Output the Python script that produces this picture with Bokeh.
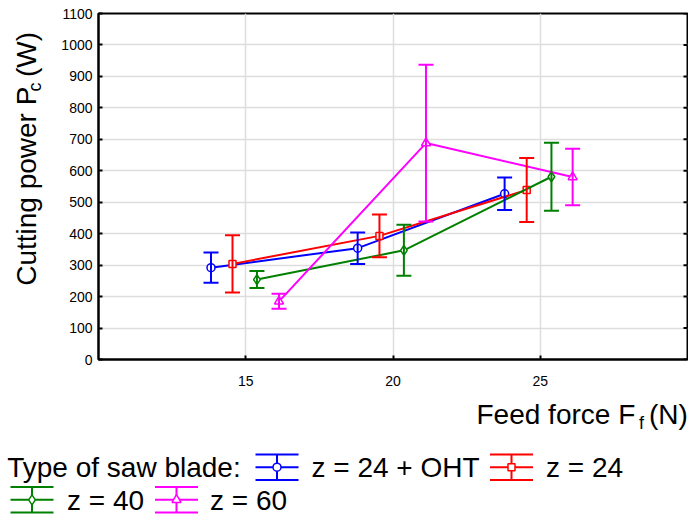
import numpy as np
from bokeh.plotting import figure
from bokeh.models import Range1d, FixedTicker, Whisker, TeeHead, ColumnDataSource
from bokeh.layouts import column, row
from bokeh.embed import file_html
from bokeh.resources import INLINE
from bokeh.core.properties import value

FONT = "Liberation Sans"

# ---------------- data ----------------
series_names = ["z = 24 + OHT", "z = 24", "z = 40", "z = 60"]
colors = ["#0000FF", "#FF0000", "#008000", "#FF00FF"]
markers = ["circle", "square", "diamond", "triangle"]
marker_sizes = [8, 7, 10, 9]

feed_oht = [13.82, 18.80, 23.79]
power_oht = [292, 354, 527]
err_oht = [48, 50, 52]

feed_24 = [14.55, 19.54, 24.54]
power_24 = [304, 393, 539]
err_24 = [91, 68, 102]

feed_40 = [15.38, 20.37, 25.38]
power_40 = [254, 347, 581]
err_40 = [27, 81, 108]

feed_60 = [16.13, 21.12, 26.10]
power_60 = [185, 688, 580]
err_60 = [24, 249, 90]

x_ticks = [15, 20, 25]
y_ticks = [0, 100, 200, 300, 400, 500, 600, 700, 800, 900, 1000, 1100]
x_min, x_max = 10, 30
y_min, y_max = 0, 1100

all_x = [feed_oht, feed_24, feed_40, feed_60]
all_y = [power_oht, power_24, power_40, power_60]
all_e = [err_oht, err_24, err_40, err_60]

# ---------------- main plot ----------------
MAIN_H = 396
MAIN_W = 638
p = figure(width=MAIN_W, height=MAIN_H, x_range=Range1d(x_min, x_max), y_range=Range1d(y_min, y_max),
           output_backend="svg", toolbar_location=None,
           min_border_left=48, min_border_right=1, min_border_top=13, min_border_bottom=37)
p.outline_line_color = "black"
p.outline_line_width = 2
p.background_fill_color = "white"
p.border_fill_color = "white"

p.xaxis.ticker = FixedTicker(ticks=x_ticks)
p.yaxis.ticker = FixedTicker(ticks=y_ticks)
for ax in (p.xaxis[0], p.yaxis[0]):
    ax.axis_line_width = 2
    ax.axis_line_color = "black"
    ax.major_tick_in = 4
    ax.major_tick_out = 0
    ax.major_tick_line_width = 2
    ax.minor_tick_line_color = None
    ax.major_label_text_font = FONT
    ax.major_label_text_font_size = "14px"
    ax.major_label_text_color = "black"
p.yaxis.major_label_standoff = 6
p.xaxis.major_label_standoff = 16

p.xgrid.grid_line_color = "#DDDDDD"
p.ygrid.grid_line_color = "#DDDDDD"
p.xgrid.grid_line_width = 1.5
p.ygrid.grid_line_width = 1.5

# inward tick marks on the right frame edge
frame_w_px = MAIN_W - 48 - 1
tick_len = (x_max - x_min) * 4.0 / frame_w_px
p.segment(x0=[x_max] * len(y_ticks), x1=[x_max - tick_len] * len(y_ticks),
          y0=y_ticks, y1=y_ticks, line_color="black", line_width=2)

for xs, ys, es, c, m, ms in zip(all_x, all_y, all_e, colors, markers, marker_sizes):
    src = ColumnDataSource(dict(x=xs, y=ys,
                                upper=[y + e for y, e in zip(ys, es)],
                                lower=[y - e for y, e in zip(ys, es)]))
    p.add_layout(Whisker(base="x", upper="upper", lower="lower", source=src,
                         dimension="height", line_color=c, line_width=2, level="glyph",
                         upper_head=TeeHead(size=15, line_color=c, line_width=2),
                         lower_head=TeeHead(size=15, line_color=c, line_width=2)))
    p.line("x", "y", source=src, line_color=c, line_width=2)
    p.scatter("x", "y", source=src, marker=m, size=ms, line_color=c,
              fill_color="white", line_width=1.5)

# ---------------- helper pixel figures (y grows upward) ----------------
def pixel_fig(w, h):
    f = figure(width=w, height=h, x_range=Range1d(0, w), y_range=Range1d(0, h),
               output_backend="svg", toolbar_location=None,
               x_axis_location=None, y_axis_location=None, min_border=0)
    f.outline_line_color = None
    f.grid.visible = False
    f.background_fill_color = "white"
    f.border_fill_color = "white"
    return f

MID = 0.3465  # distance (em) between font-box middle and baseline

def txt(f, x, y, s, size=28, align="left"):
    # (x, y) = start of the text on its baseline
    f.text(x=[x], y=[y + MID * size], text=[s], text_font=value(FONT),
           text_font_size=value(f"{size}px"),
           text_align=align, text_baseline="middle", text_color="black")

def vtxt(f, x, yc, s, size=28):
    # rotated 90 deg; x = baseline position, yc = centre of the text along its length
    f.text(x=[x - MID * size], y=[yc], text=[s], angle=np.pi / 2, text_font=value(FONT),
           text_font_size=value(f"{size}px"),
           text_align="center", text_baseline="middle", text_color="black")

# y axis label panel
ylab = pixel_fig(50, MAIN_H)
vtxt(ylab, 35.5, 198.3, "Cutting power P")
vtxt(ylab, 40.5, 312.0, "c", size=18)
vtxt(ylab, 35.5, 349.0, "(W)")

# bottom panel: x label + legend
BOT_H = 121
bot = pixel_fig(688, BOT_H)

txt(bot, 476, 93, "Feed force F")
txt(bot, 638.5, 88, "f", size=18)
txt(bot, 648.5, 93, "(N)")

txt(bot, 6.7, 40.5, "Type of saw blade:")
legend_pos = [(276.5, 50.3, 311, 40.5), (511, 50.3, 545.5, 40.5),
              (31.5, 17.7, 66.5, 7.7), (176, 17.7, 209.5, 7.7)]
for (cx, cy, tx, ty), name, c, m, ms in zip(legend_pos, series_names, colors, markers, marker_sizes):
    half_w, half_h = 21.5, 12.8
    bot.segment(x0=[cx - half_w] * 3, x1=[cx + half_w] * 3,
                y0=[cy - half_h, cy, cy + half_h], y1=[cy - half_h, cy, cy + half_h],
                line_color=c, line_width=2)
    bot.segment(x0=[cx], x1=[cx], y0=[cy - half_h], y1=[cy + half_h], line_color=c, line_width=2)
    bot.scatter(x=[cx], y=[cy], marker=m, size=ms, line_color=c, fill_color="white", line_width=1.5)
    txt(bot, tx, ty, name)

layout = column(row(ylab, p), bot)
open("out.html", "w").write(file_html(layout, INLINE))
